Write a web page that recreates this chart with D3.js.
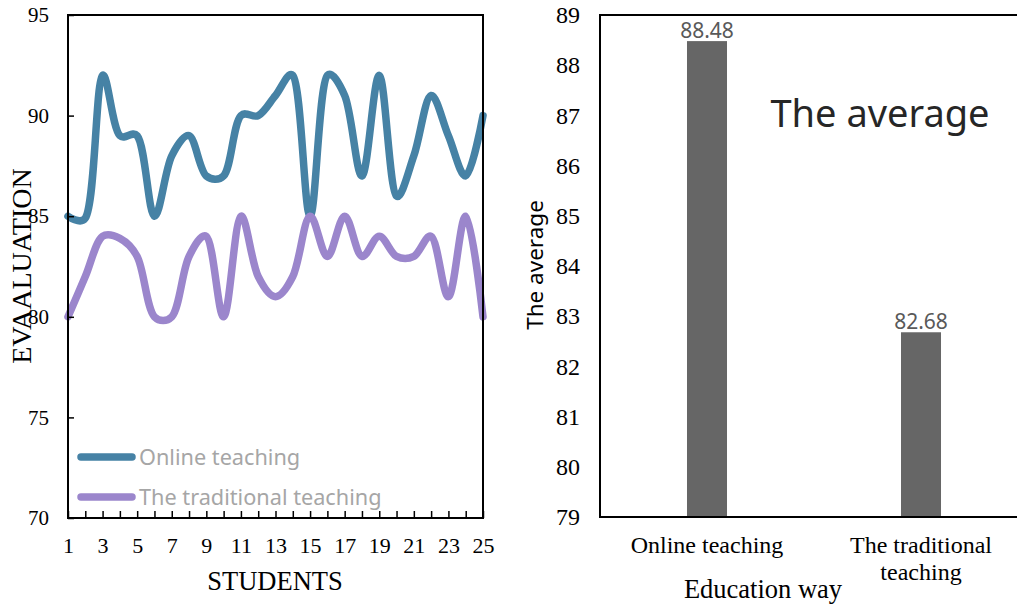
<!DOCTYPE html>
<html>
<head>
<meta charset="utf-8">
<script src="https://cdn.jsdelivr.net/npm/d3@7/dist/d3.min.js"></script>
<style>
	body { margin: 0; background: #fff; }
	.serif { font-family: "Liberation Serif", "Times New Roman", serif; fill: #000; }
	.sans { font-family: "Noto Sans", "Open Sans", sans-serif; }
</style>
</head>
<body>
<svg width="1017" height="605"></svg>
<script>
	// left chart: evaluation per student
	var students = d3.range(1, 26);
	var online = [85, 84.9, 92, 89, 89, 85, 88, 89, 87, 87, 90, 90, 91, 92, 85, 92, 91, 87, 92, 86, 88, 91, 89, 87, 90];
	var traditional = [80, 82, 84, 83.9, 83, 80, 80, 83, 84, 80, 85, 82, 81, 82, 85, 83, 85, 83, 84, 83, 83, 84, 81, 85, 80];
	var seriesNames = ['Online teaching', 'The traditional teaching'];
	var leftTicks = [70, 75, 80, 85, 90, 95];

	// right chart: averages
	var ways = ['Online teaching', 'The traditional teaching'];
	var averages = [88.48, 82.68];
	var rightTicks = d3.range(79, 90);

	var colors = ['#4682a5', '#9b86cc'];
	var svg = d3.select('svg');

	// ---------- left chart ----------
	var x = d3.scaleLinear().domain([1, 25]).range([68, 483]);
	var y = d3.scaleLinear().domain([70, 95]).range([518, 15]);

	var left = svg.append('g');

	var line = d3.line()
		.x(function(d, i) { return x(students[i]); })
		.y(function(d) { return y(d); })
		.curve(d3.curveCatmullRom.alpha(0.35));

	left.selectAll('path.series')
		.data([online, traditional])
		.enter()
		.append('path')
		.attr('class', 'series')
		.attr('d', line)
		.attr('fill', 'none')
		.attr('stroke', function(d, i) { return colors[i]; })
		.attr('stroke-width', 7.5)
		.attr('stroke-linejoin', 'round')
		.attr('stroke-linecap', 'round');

	// frame
	left.append('rect')
		.attr('x', x(1)).attr('y', y(95))
		.attr('width', x(25) - x(1)).attr('height', y(70) - y(95))
		.attr('fill', 'none').attr('stroke', '#000').attr('stroke-width', 2);

	// x axis, inward ticks at every student, labels on odd ones
	var xAxis = d3.axisBottom(x)
		.tickValues(students)
		.tickSizeInner(-7)
		.tickSizeOuter(0)
		.tickPadding(19)
		.tickFormat(function(d) { return d % 2 ? d : ''; });
	var gx = left.append('g').attr('transform', 'translate(0,' + y(70) + ')').call(xAxis);
	gx.select('.domain').remove();
	gx.selectAll('line').attr('stroke', '#000').attr('stroke-width', 1.5);
	gx.selectAll('text').attr('class', 'serif').style('font-size', '22px');

	var yAxis = d3.axisLeft(y)
		.tickValues(leftTicks)
		.tickSizeInner(-6)
		.tickSizeOuter(0)
		.tickPadding(19);
	var gy = left.append('g').attr('transform', 'translate(' + x(1) + ',0)').call(yAxis);
	gy.select('.domain').remove();
	gy.selectAll('line').attr('stroke', '#000').attr('stroke-width', 1.5);
	gy.selectAll('text').attr('class', 'serif').style('font-size', '21px');

	left.append('text')
		.attr('class', 'serif')
		.attr('x', 275).attr('y', 590)
		.attr('text-anchor', 'middle')
		.style('font-size', '26.5px')
		.text('STUDENTS');

	left.append('text')
		.attr('class', 'serif')
		.attr('transform', 'translate(31,266) rotate(-90)')
		.attr('text-anchor', 'middle')
		.style('font-size', '28px')
		.text('EVAALUATION');

	// legend
	var legend = left.selectAll('g.legend')
		.data(seriesNames)
		.enter()
		.append('g')
		.attr('class', 'legend')
		.attr('transform', function(d, i) { return 'translate(0,' + (457 + i * 40) + ')'; });
	legend.append('line')
		.attr('x1', 81).attr('x2', 132)
		.attr('stroke', function(d, i) { return colors[i]; })
		.attr('stroke-width', 7.5)
		.attr('stroke-linecap', 'round');
	legend.append('text')
		.attr('class', 'sans')
		.attr('x', 139).attr('dy', '0.36em')
		.attr('fill', '#a6a6a6')
		.style('font-size', '21.7px')
		.text(function(d) { return d; });

	// ---------- right chart ----------
	var xb = d3.scaleBand().domain(ways).range([600, 1028]).paddingInner(0.813).paddingOuter(0.4065);
	var yb = d3.scaleLinear().domain([79, 89]).range([517, 15]);

	var right = svg.append('g');

	right.selectAll('rect.bar')
		.data(averages)
		.enter()
		.append('rect')
		.attr('class', 'bar')
		.attr('x', function(d, i) { return xb(ways[i]); })
		.attr('y', function(d) { return yb(d); })
		.attr('width', xb.bandwidth())
		.attr('height', function(d) { return yb(79) - yb(d); })
		.attr('fill', '#666666');

	right.selectAll('text.value')
		.data(averages)
		.enter()
		.append('text')
		.attr('class', 'value sans')
		.attr('x', function(d, i) { return xb(ways[i]) + xb.bandwidth() / 2; })
		.attr('y', function(d) { return yb(d) - 3; })
		.attr('text-anchor', 'middle')
		.attr('fill', '#595959')
		.style('font-size', '21px')
		.text(function(d) { return d.toFixed(2); });

	var ybAxis = d3.axisLeft(yb).tickValues(rightTicks).tickSize(0).tickPadding(20);
	var gyb = right.append('g').attr('transform', 'translate(600,0)').call(ybAxis);
	gyb.select('.domain').remove();
	gyb.selectAll('text').attr('class', 'serif').style('font-size', '24px');

	// axis lines: left, top, bottom
	right.append('path')
		.attr('d', 'M1017,' + yb(89) + 'H600V' + yb(79) + 'H1017')
		.attr('fill', 'none').attr('stroke', '#000').attr('stroke-width', 2);

	var catLabels = right.selectAll('text.cat')
		.data([['Online teaching'], ['The traditional', 'teaching']])
		.enter()
		.append('text')
		.attr('class', 'cat serif')
		.attr('text-anchor', 'middle')
		.style('font-size', '24px');
	catLabels.each(function(lines, k) {
		d3.select(this).selectAll('tspan')
			.data(lines)
			.enter()
			.append('tspan')
			.attr('x', xb(ways[k]) + xb.bandwidth() / 2)
			.attr('y', function(d, i) { return 553 + i * 27; })
			.text(function(d) { return d; });
	});

	right.append('text')
		.attr('class', 'serif')
		.attr('x', 763).attr('y', 598)
		.attr('text-anchor', 'middle')
		.style('font-size', '26.5px')
		.text('Education way');

	right.append('text')
		.attr('class', 'sans')
		.attr('transform', 'translate(543,265) rotate(-90)')
		.attr('text-anchor', 'middle')
		.attr('fill', '#000')
		.style('font-size', '22.5px')
		.text('The average');

	right.append('text')
		.attr('class', 'sans')
		.attr('x', 880).attr('y', 127)
		.attr('text-anchor', 'middle')
		.attr('fill', '#262626')
		.style('font-size', '38px')
		.text('The average');
</script>
</body>
</html>
